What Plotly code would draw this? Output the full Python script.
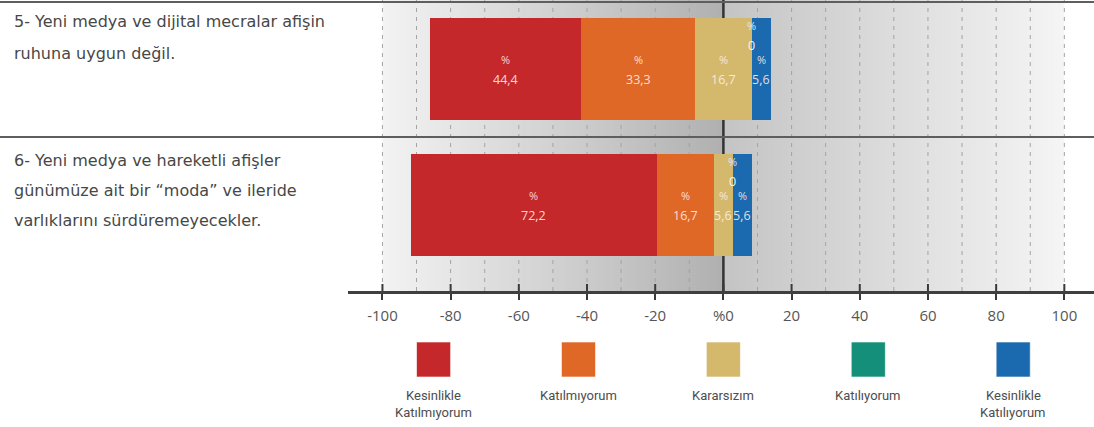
import plotly.graph_objects as go

# ---- data -----------------------------------------------------------------
question_lines = [
    ["5- Yeni medya ve dijital mecralar afişin", "ruhuna uygun değil."],
    ["6- Yeni medya ve hareketli afişler", "günümüze ait bir “moda” ve ileride",
     "varlıklarını sürdüremeyecekler."],
]
row_positions = [1, 0]  # question 5 on top, question 6 below

response_labels = [
    ["Kesinlikle", "Katılmıyorum"],
    ["Katılmıyorum"],
    ["Kararsızım"],
    ["Katılıyorum"],
    ["Kesinlikle", "Katılıyorum"],
]
kesinlikle_katilmiyorum = [44.4, 72.2]
katilmiyorum = [33.3, 16.7]
kararsizim = [16.7, 5.6]
katiliyorum = [0.0, 0.0]
kesinlikle_katiliyorum = [5.6, 5.6]

tick_values = [-100, -80, -60, -40, -20, 0, 20, 40, 60, 80, 100]
tick_labels = ["-100", "-80", "-60", "-40", "-20", "%0", "20", "40", "60", "80", "100"]
legend_centers = [-85, -42.5, 0, 42.5, 85]

# ---- styling --------------------------------------------------------------
colors = ["#c4282b", "#e06827", "#d4b86b", "#14907a", "#1b69ae"]
W, H = 1094, 427
L, R, T, B = 348, 0, 0, 136          # plot area: x 348..1094, y 0..291
PLOT_H = H - T - B
PLOT_W = W - L - R
X_RANGE = [-110.1, 108.7]
Y_RANGE = [-0.629, 1.511]
BAR_W = 0.75


def xp(px):
    return (px - L) / PLOT_W


def yp(py):
    return (T + PLOT_H - py) / PLOT_H


series = [kesinlikle_katilmiyorum, katilmiyorum, kararsizim,
          katiliyorum, kesinlikle_katiliyorum]

# left edge of each bar: everything negative plus half of the neutral share
starts = [-(series[0][i] + series[1][i] + series[2][i] / 2) for i in range(len(row_positions))]

fig = go.Figure()

bases = list(starts)
segment_info = []
for k, vals in enumerate(series):
    fig.add_trace(go.Bar(
        y=row_positions, x=vals, base=list(bases), orientation="h",
        width=BAR_W, marker=dict(color=colors[k], line=dict(width=0)),
        name=" ".join(response_labels[k]), showlegend=False, hoverinfo="skip",
    ))
    segment_info.append([(bases[i], vals[i]) for i in range(len(vals))])
    bases = [bases[i] + vals[i] for i in range(len(vals))]

shapes = []

# grey gradient behind the bars, darkest at zero
def mix(c0, c1, t):
    return "rgb(%d,%d,%d)" % tuple(round(a + (b - a) * t) for a, b in zip(c0, c1))

N = 100
for i in range(N):
    t0 = i / N
    # left half: -100 -> 0
    x0 = -100 + 100 * t0
    shapes.append(dict(type="rect", xref="x", yref="paper", x0=x0, x1=x0 + 100 / N + 0.4,
                       y0=0, y1=1, line=dict(width=0), layer="below",
                       fillcolor=mix((243, 243, 243), (176, 176, 176), t0 + 0.5 / N)))
for i in range(N):
    t0 = i / N
    x0 = 100 * t0
    x1 = x0 + 100 / N + (0.4 if i < N - 1 else 0)
    shapes.append(dict(type="rect", xref="x", yref="paper", x0=x0, x1=x1,
                       y0=0, y1=1, line=dict(width=0), layer="below",
                       fillcolor=mix((196, 196, 196), (245, 245, 245), t0 + 0.5 / N)))

# dashed grid every 10 units
for g in range(-100, 101, 10):
    if g == 0:
        continue
    shapes.append(dict(type="line", xref="x", yref="paper", x0=g, x1=g, y0=0, y1=1,
                       line=dict(color="#a3a3a3", width=1, dash="4px,5px"), layer="below"))
# zero line
shapes.append(dict(type="line", xref="x", yref="paper", x0=0, x1=0, y0=0, y1=1,
                   line=dict(color="#333333", width=2.5), layer="below"))

# horizontal separators across the full width
for py in (2, 137):
    shapes.append(dict(type="line", xref="paper", yref="paper", x0=xp(0), x1=xp(W),
                       y0=yp(py), y1=yp(py), line=dict(color="#5e5e5e", width=2),
                       layer="above"))

# upper half of the tick marks (crossing the axis line)
for v in tick_values:
    shapes.append(dict(type="line", xref="x", yref="paper", x0=v, x1=v,
                       y0=yp(291), y1=yp(284), line=dict(color="#3a3a3a", width=2),
                       layer="above"))

# legend swatches
for c, col in zip(legend_centers, colors):
    shapes.append(dict(type="rect", xref="x", yref="paper", x0=c - 5, x1=c + 5,
                       y0=yp(377), y1=yp(342), fillcolor=col,
                       line=dict(color="rgba(255,255,255,0.6)", width=1), layer="above"))

annotations = []
FONT = "Open Sans"

# question text
q_line_y = [[22, 53], [160, 190, 220]]
for lines, ys in zip(question_lines, q_line_y):
    for txt, py in zip(lines, ys):
        annotations.append(dict(text=txt, xref="paper", yref="paper", x=xp(12), y=yp(py),
                                xanchor="left", yanchor="middle", showarrow=False,
                                font=dict(family="DejaVu Sans", size=16, color="#474747")))

# value labels inside the bars
label_color = "rgba(255,240,236,0.88)"
for k, segs in enumerate(segment_info):
    for i, (b0, v) in enumerate(segs):
        xc = b0 + v / 2
        yc = row_positions[i]
        val_txt = ("%.1f" % v).replace(".", ",") if v else "0"
        if v > 0:
            annotations.append(dict(text="%", x=xc, y=yc, xref="x", yref="y",
                                    yshift=10, showarrow=False,
                                    font=dict(family=FONT, size=11, color=label_color)))
            annotations.append(dict(text=val_txt, x=xc, y=yc, xref="x", yref="y",
                                    yshift=-10, showarrow=False,
                                    font=dict(family=FONT, size=12.5, color=label_color)))
        else:
            annotations.append(dict(text="%", x=xc, y=yc, xref="x", yref="y",
                                    yshift=44, showarrow=False,
                                    font=dict(family=FONT, size=11, color="#dfe9f5")))
            annotations.append(dict(text=val_txt, x=xc, y=yc, xref="x", yref="y",
                                    yshift=24, showarrow=False,
                                    font=dict(family=FONT, size=12.5, color="#f4f4f4")))

# legend captions
for c, lines in zip(legend_centers, response_labels):
    for j, txt in enumerate(lines):
        annotations.append(dict(text=txt, xref="x", yref="paper", x=c, y=yp(395 + 17 * j),
                                xanchor="center", yanchor="middle", showarrow=False,
                                font=dict(family="Roboto", size=13, color="#4d4d4d")))

fig.update_layout(
    width=W, height=H, autosize=False,
    margin=dict(l=L, r=R, t=T, b=B, pad=0),
    paper_bgcolor="white", plot_bgcolor="white",
    barmode="overlay", bargap=0,
    shapes=shapes, annotations=annotations,
    xaxis=dict(range=X_RANGE, tickmode="array", tickvals=tick_values, ticktext=tick_labels,
               showgrid=False, zeroline=False, showline=True, linecolor="#3f3f3f",
               linewidth=3, ticks="outside", ticklen=6, tickwidth=2, tickcolor="#3a3a3a",
               ticklabelstandoff=3,
               tickfont=dict(family=FONT, size=15, color="#555555"), fixedrange=True),
    yaxis=dict(range=Y_RANGE, visible=False, fixedrange=True),
    showlegend=False,
)

fig.write_html("out.html")
